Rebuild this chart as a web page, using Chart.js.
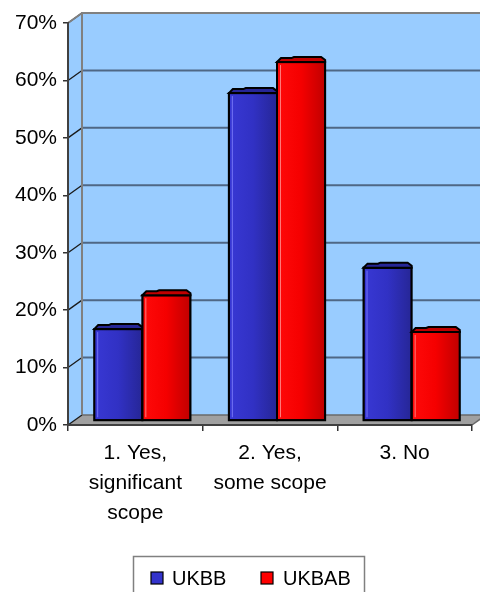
<!DOCTYPE html>
<html><head><meta charset="utf-8">
<script src="https://cdn.jsdelivr.net/npm/chart.js@4"></script>
<style>html,body{margin:0;padding:0;background:#fff}#wrap{width:480px;height:592px;position:relative}</style>
</head><body><div id="wrap"><canvas id="c" width="480" height="592"></canvas></div>
<script>
const categories = [["1. Yes,","significant","scope"],["2. Yes,","some scope"],["3. No"]];
const seriesNames = ["UKBB","UKBAB"];
const ukbb = [16.0, 57.1, 26.7];
const ukbab = [21.9, 62.5, 15.5];
const yTicks = [0,10,20,30,40,50,60,70];
const seriesColors = ["#3333CC","#FF0000"];
const seriesShade = [["#3838D4","#3131C4","#262696"],["#FF0A0A","#F50000","#C00000"]];
const FONT = "'Liberation Sans', Arial, sans-serif";
const DX = 14, DY = -10;     // depth of walls
const BX = 7, BY = -4;       // bars placed at mid depth

const excel3d = {
  id: 'excel3d',
  beforeDraw(chart) {
    const {ctx, chartArea: {left, right, top, bottom}} = chart;
    const ys = chart.scales.y;
    ctx.save();
    ctx.fillStyle = '#99CCFF';
    ctx.beginPath();
    ctx.moveTo(left, top); ctx.lineTo(left+DX, top+DY); ctx.lineTo(left+DX, bottom+DY); ctx.lineTo(left, bottom); ctx.closePath();
    ctx.fill();
    ctx.fillRect(left+DX, top+DY, right-left, bottom-top);
    ctx.fillStyle = '#A0A0A0';
    ctx.beginPath();
    ctx.moveTo(left, bottom); ctx.lineTo(left+DX, bottom+DY); ctx.lineTo(right+DX, bottom+DY); ctx.lineTo(right, bottom); ctx.closePath();
    ctx.fill();
    yTicks.forEach(v => {
      const y = ys.getPixelForValue(v);
      if (v > 0 && v < 70) {
        ctx.strokeStyle = '#4F6785'; ctx.lineWidth = 2;
        ctx.beginPath(); ctx.moveTo(left+DX, y+DY); ctx.lineTo(right+DX, y+DY); ctx.stroke();
      }
      ctx.strokeStyle = '#1a1a1a'; ctx.lineWidth = 1.3;
      ctx.beginPath(); ctx.moveTo(left, y); ctx.lineTo(left+DX, y+DY); ctx.stroke();
    });
    ctx.strokeStyle = '#808080'; ctx.lineWidth = 2;
    ctx.beginPath();
    ctx.moveTo(left+DX, bottom+DY); ctx.lineTo(left+DX, top+DY); ctx.lineTo(right+DX+2, top+DY);
    ctx.stroke();
    ctx.beginPath();
    ctx.moveTo(left, top); ctx.lineTo(left+DX, top+DY);
    ctx.stroke();
    ctx.strokeStyle = '#6a6a6a'; ctx.lineWidth = 1.5;
    ctx.beginPath();
    ctx.moveTo(left+DX, bottom+DY); ctx.lineTo(right+DX+2, bottom+DY);
    ctx.moveTo(right, bottom); ctx.lineTo(right+DX, bottom+DY);
    ctx.stroke();
    ctx.restore();
  },
  beforeDatasetsDraw(chart) {
    chart.ctx.save();
    chart.ctx.translate(BX, BY);
  },
  afterDatasetsDraw(chart) {
    const ctx = chart.ctx;
    chart.data.datasets.forEach((ds, di) => {
      const meta = chart.getDatasetMeta(di);
      const sh = seriesShade[di];
      meta.data.forEach(bar => {
        const w = bar.width, l = bar.x - w/2, r = bar.x + w/2, t = bar.y, b = bar.base;
        const g = ctx.createLinearGradient(l, 0, r, 0);
        g.addColorStop(0, sh[0]); g.addColorStop(0.5, sh[1]); g.addColorStop(1, sh[2]);
        ctx.fillStyle = g;
        ctx.fillRect(l+1, t+1, w-2, b-t-2);
        ctx.strokeStyle = di === 0 ? 'rgba(130,130,255,0.8)' : 'rgba(255,150,150,0.8)';
        ctx.lineWidth = 1;
        ctx.beginPath(); ctx.moveTo(l+3.5, t+3); ctx.lineTo(l+3.5, b-3); ctx.stroke();
        ctx.strokeStyle = '#000'; ctx.lineWidth = 2;
        ctx.strokeRect(l, t, w, b-t);
        ctx.fillStyle = sh[2];
        ctx.beginPath();
        ctx.moveTo(l, t); ctx.lineTo(l+4, t-4); ctx.lineTo(l+w*0.3, t-4); ctx.lineTo(l+w*0.35, t-5);
        ctx.lineTo(r-4, t-5); ctx.lineTo(r, t-2); ctx.lineTo(r, t); ctx.closePath();
        ctx.fill(); ctx.stroke();
      });
    });
    ctx.restore();
  },
  afterDraw(chart) {
    const ctx = chart.ctx;
    ctx.save();
    ctx.strokeStyle = '#808080'; ctx.lineWidth = 1.5;
    ctx.strokeRect(133.5, 556.5, 231, 50);
    ctx.font = '20px ' + FONT;
    ctx.textBaseline = 'middle';
    const xs = [[151,172],[261,283]];
    chart.data.datasets.forEach((ds, i) => {
      ctx.fillStyle = seriesColors[i];
      ctx.fillRect(xs[i][0], 572, 12, 12);
      ctx.strokeStyle = '#000'; ctx.lineWidth = 1.2;
      ctx.strokeRect(xs[i][0], 572, 12, 12);
      ctx.fillStyle = '#000';
      ctx.fillText(ds.label, xs[i][1], 579);
    });
    ctx.restore();
  }
};

new Chart(document.getElementById('c'), {
  type: 'bar',
  data: {
    labels: categories,
    datasets: [
      {label: seriesNames[0], data: ukbb, backgroundColor: seriesColors[0]},
      {label: seriesNames[1], data: ukbab, backgroundColor: seriesColors[1]}
    ]
  },
  options: {
    responsive: false, animation: false, devicePixelRatio: 1,
    layout: {padding: {top: 23, right: 8, left: 0, bottom: 0}},
    datasets: {bar: {categoryPercentage: 0.715, barPercentage: 1, borderWidth: 2, borderColor: '#000', borderSkipped: false}},
    plugins: {legend: {display: false}, tooltip: {enabled: false}, title: {display: false}},
    scales: {
      x: {
        offset: true,
        grid: {display: true, drawOnChartArea: false, offset: true, tickLength: 6, color: '#333', lineWidth: 1.5},
        border: {display: true, color: '#404040', width: 2},
        ticks: {font: {family: FONT, size: 21, lineHeight: 30/21}, color: '#000', padding: 7, maxRotation: 0, autoSkip: false},
        afterFit: s => { s.height = 167; }
      },
      y: {
        min: 0, max: 70,
        afterBuildTicks: s => { s.ticks = yTicks.map(v => ({value: v})); },
        grid: {display: true, drawOnChartArea: false, tickLength: 5, color: '#333', lineWidth: 1.5},
        border: {display: true, color: '#404040', width: 2},
        ticks: {font: {family: FONT, size: 21}, color: '#000', padding: 6, callback: v => v + '%'},
        afterFit: s => { s.width = 68; }
      }
    }
  },
  plugins: [excel3d]
});
</script></body></html>
